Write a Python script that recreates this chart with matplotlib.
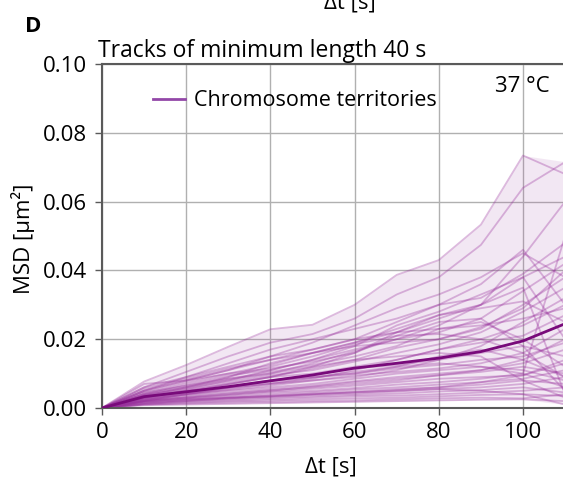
import matplotlib
matplotlib.use("Agg")
import matplotlib.pyplot as plt
from matplotlib.lines import Line2D

plt.rcParams['font.family'] = ['Open Sans', 'DejaVu Sans']

# ---- data ----
dt = [0, 10, 20, 30, 40, 50, 60, 70, 80, 90, 100, 110]

mean_msd = [0, .0033, .0047, .0062, .0079, .0096, .0116, .0130, .0145, .0164, .0195, .0245]
band_upper = [0, .0077, .0125, .0178, .0229, .0242, .0300, .0387, .0430, .0533, .0734, .0716]
band_lower = [0, .0008, .0010, .0012, .0014, .0016, .0018, .0020, .0022, .0024, .0025, .0010]

track_01 = [0, .0077, .0125, .0178, .0229, .0242, .0300, .0387, .0430, .0533, .0734, .0680]
track_02 = [0, .0060, .0105, .0150, .0190, .0215, .0260, .0330, .0380, .0474, .0640, .0715]
track_03 = [0, .0070, .0080, .0110, .0150, .0190, .0240, .0290, .0330, .0380, .0450, .0380]
track_04 = [0, .0050, .0090, .0130, .0170, .0200, .0230, .0260, .0300, .0320, .0390, .0480]
track_05 = [0, .0045, .0075, .0100, .0125, .0160, .0190, .0230, .0270, .0290, .0310, .0250]
track_06 = [0, .0040, .0070, .0095, .0110, .0140, .0170, .0200, .0220, .0260, .0340, .0420]
track_07 = [0, .0035, .0060, .0085, .0105, .0125, .0150, .0180, .0230, .0250, .0200, .0120]
track_08 = [0, .0038, .0055, .0075, .0095, .0110, .0135, .0160, .0185, .0220, .0280, .0350]
track_09 = [0, .0030, .0050, .0070, .0090, .0100, .0120, .0140, .0170, .0200, .0240, .0300]
track_10 = [0, .0032, .0048, .0062, .0080, .0095, .0115, .0125, .0140, .0160, .0180, .0150]
track_11 = [0, .0028, .0042, .0058, .0072, .0088, .0100, .0115, .0125, .0140, .0150, .0190]
track_12 = [0, .0025, .0040, .0052, .0065, .0080, .0095, .0105, .0115, .0130, .0160, .0230]
track_13 = [0, .0027, .0038, .0050, .0060, .0070, .0085, .0100, .0110, .0120, .0110, .0080]
track_14 = [0, .0022, .0035, .0045, .0055, .0065, .0078, .0090, .0100, .0110, .0130, .0170]
track_15 = [0, .0020, .0032, .0042, .0052, .0060, .0070, .0080, .0095, .0105, .0120, .0100]
track_16 = [0, .0024, .0030, .0038, .0048, .0056, .0065, .0075, .0085, .0090, .0095, .0130]
track_17 = [0, .0018, .0028, .0036, .0045, .0050, .0058, .0068, .0075, .0085, .0100, .0060]
track_18 = [0, .0020, .0026, .0032, .0040, .0046, .0054, .0060, .0068, .0075, .0085, .0110]
track_19 = [0, .0015, .0024, .0030, .0036, .0042, .0048, .0055, .0060, .0068, .0080, .0070]
track_20 = [0, .0016, .0022, .0028, .0032, .0038, .0042, .0048, .0055, .0060, .0070, .0090]
track_21 = [0, .0014, .0020, .0025, .0030, .0034, .0038, .0042, .0048, .0052, .0060, .0045]
track_22 = [0, .0012, .0018, .0022, .0026, .0030, .0034, .0036, .0040, .0045, .0050, .0060]
track_23 = [0, .0010, .0015, .0019, .0022, .0025, .0028, .0030, .0034, .0038, .0040, .0035]
track_24 = [0, .0010, .0013, .0016, .0018, .0020, .0022, .0025, .0028, .0030, .0028, .0040]
track_25 = [0, .0008, .0010, .0012, .0014, .0016, .0018, .0020, .0022, .0024, .0025, .0020]
track_26 = [0, .0040, .0065, .0090, .0120, .0150, .0185, .0210, .0215, .0200, .0160, .0090]
track_27 = [0, .0050, .0080, .0100, .0115, .0135, .0160, .0210, .0250, .0260, .0180, .0050]
track_28 = [0, .0030, .0055, .0080, .0100, .0130, .0165, .0200, .0240, .0300, .0380, .0440]
track_29 = [0, .0025, .0045, .0068, .0090, .0115, .0140, .0175, .0200, .0235, .0290, .0400]
track_30 = [0, .0035, .0050, .0060, .0070, .0080, .0090, .0110, .0140, .0180, .0250, .0320]
track_31 = [0, .0045, .0065, .0085, .0100, .0120, .0140, .0150, .0160, .0150, .0080, .0030]
track_32 = [0, .0022, .0040, .0055, .0070, .0085, .0110, .0140, .0170, .0190, .0210, .0270]
track_33 = [0, .0030, .0045, .0060, .0078, .0090, .0105, .0120, .0150, .0170, .0140, .0090]
track_34 = [0, .0020, .0030, .0040, .0050, .0062, .0075, .0085, .0095, .0110, .0140, .0200]
track_35 = [0, .0060, .0090, .0120, .0150, .0170, .0200, .0220, .0230, .0240, .0260, .0290]
track_36 = [0, .0018, .0025, .0030, .0035, .0040, .0045, .0052, .0060, .0075, .0095, .0140]
track_37 = [0, .0055, .0085, .0115, .0140, .0160, .0180, .0190, .0200, .0230, .0300, .0380]
track_38 = [0, .0012, .0020, .0028, .0034, .0040, .0046, .0050, .0055, .0050, .0040, .0010]
track_39 = [0, .0030, .0050, .0070, .0090, .0120, .0160, .0220, .0270, .0300, .0350, .0040]
track_40 = [0, .0020, .0040, .0060, .0080, .0090, .0100, .0120, .0130, .0120, .0100, .0500]
track_41 = [0, .0040, .0060, .0080, .0110, .0140, .0180, .0240, .0280, .0330, .0380, .0200]
track_42 = [0, .0050, .0080, .0110, .0140, .0170, .0200, .0250, .0300, .0360, .0460, .0300]
track_43 = [0, .0035, .0060, .0090, .0130, .0160, .0190, .0220, .0260, .0300, .0440, .0600]

tracks = [track_01, track_02, track_03, track_04, track_05, track_06, track_07, track_08,
          track_09, track_10, track_11, track_12, track_13, track_14, track_15, track_16,
          track_17, track_18, track_19, track_20, track_21, track_22, track_23, track_24,
          track_25, track_26, track_27, track_28, track_29, track_30, track_31, track_32,
          track_33, track_34, track_35, track_36, track_37, track_38, track_39, track_40,
          track_41, track_42, track_43]

x_ticks = [0, 20, 40, 60, 80, 100]
y_ticks = [0.00, 0.02, 0.04, 0.06, 0.08, 0.10]
y_tick_labels = ["0.00", "0.02", "0.04", "0.06", "0.08", "0.10"]

title_text = "Tracks of minimum length 40 s"
legend_label = "Chromosome territories"
temp_text = "37 °C"
panel_letter = "D"

# ---- figure ----
W, H = 563, 480
fig = plt.figure(figsize=(W / 100, H / 100), dpi=100)
ax = fig.add_axes([102 / W, (H - 408) / H, (W - 102) / W, 344 / H])

track_color = "#98309c"
mean_color = "#780a7a"

ax.fill_between(dt, band_lower, band_upper, color="#a24aa8", alpha=0.13, lw=0, zorder=1)
for tr in tracks:
    ax.plot(dt, tr, color=track_color, alpha=0.33, lw=1.3, zorder=2)
ax.plot(dt, mean_msd, color=mean_color, lw=2.0, zorder=3)

ax.set_xlim(0, 109.5)
ax.set_ylim(0, 0.10)
ax.set_xticks(x_ticks)
ax.set_yticks(y_ticks)
ax.set_yticklabels(y_tick_labels)
ax.grid(True, color="#b0b0b0", lw=1.0, zorder=0)
ax.set_axisbelow(True)

for side in ["left", "bottom", "top"]:
    ax.spines[side].set_color("#5a5a5a")
    ax.spines[side].set_linewidth(1.5)
ax.spines["right"].set_visible(False)
ax.tick_params(axis="both", labelsize=16, color="#5a5a5a", length=5, width=1.0)
ax.tick_params(axis="y", pad=6)
ax.tick_params(axis="x", pad=5)

# legend
h = Line2D([0], [0], color="#9347a8", lw=2.0)
ax.legend([h], [legend_label], loc="center left", frameon=False, fontsize=15.5,
          handlelength=1.5, handletextpad=0.4, borderpad=0, borderaxespad=0,
          bbox_to_anchor=(153 / W, (H - 101) / H), bbox_transform=fig.transFigure)

fig.text(98 / W, (H - 57) / H, title_text, fontsize=16.5, ha="left", va="baseline")
fig.text(550 / W, (H - 92) / H, temp_text, fontsize=16, ha="right", va="baseline")
fig.text(25 / W, (H - 32) / H, panel_letter, fontsize=16, weight="bold", ha="left", va="baseline")
fig.text(350 / W, (H - 8.5) / H, "Δt [s]", fontsize=16, ha="center", va="baseline")
fig.text(331 / W, (H - 473) / H, "Δt [s]", fontsize=16, ha="center", va="baseline")
fig.text(23 / W, (H - 239) / H, "MSD [μm²]", fontsize=16, rotation=90, ha="center", va="center")

fig.savefig("out.png", dpi=100)
